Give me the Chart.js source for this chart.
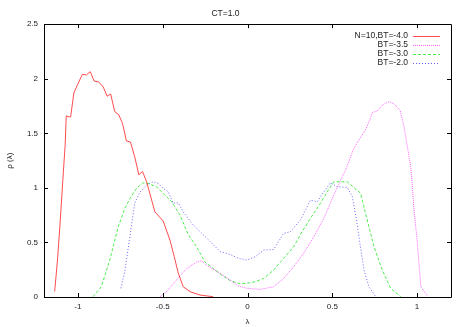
<!DOCTYPE html>
<html>
<head>
<meta charset="utf-8">
<script src="https://cdn.jsdelivr.net/npm/chart.js@4.4.1/dist/chart.umd.min.js"></script>
<style>
  html, body { margin: 0; padding: 0; background: #fff; }
  #wrap { width: 467px; height: 327px; }
</style>
</head>
<body>
<div id="wrap"><canvas id="rho_chart"></canvas></div>
<script>
// data
const seriesLabels = ['N=10,BT=-4.0', 'BT=-3.5', 'BT=-3.0', 'BT=-2.0'];

const lambdaA = [-1.137, -1.12, -1.105, -1.089, -1.075, -1.069, -1.05, -1.043, -1.024, -1.004, -0.974, -0.95, -0.927, -0.905, -0.878, -0.852, -0.828, -0.807, -0.783, -0.759, -0.737, -0.714, -0.69, -0.665, -0.641, -0.619, -0.595, -0.546, -0.497, -0.457, -0.432, -0.408, -0.379, -0.339, -0.28, -0.203];
const rhoA = [0.05, 0.35, 0.68, 1.07, 1.4, 1.66, 1.65, 1.65, 1.87, 1.94, 2.04, 2.035, 2.065, 1.98, 1.97, 1.93, 1.84, 1.86, 1.7, 1.67, 1.59, 1.43, 1.42, 1.285, 1.12, 1.15, 1.056, 0.78, 0.696, 0.52, 0.37, 0.217, 0.094, 0.049, 0.018, 0.003];

const lambdaB = [-0.516, -0.477, -0.418, -0.359, -0.3, -0.27, -0.24, -0.161, -0.102, -0.053, -0.004, 0.075, 0.154, 0.213, 0.272, 0.331, 0.39, 0.45, 0.509, 0.549, 0.578, 0.627, 0.657, 0.696, 0.716, 0.736, 0.766, 0.795, 0.834, 0.864, 0.9, 0.923, 0.943, 0.963, 0.982, 1.002, 1.022, 1.061];
const rhoB = [0.003, 0.049, 0.156, 0.26, 0.32, 0.33, 0.29, 0.217, 0.156, 0.1, 0.08, 0.07, 0.094, 0.17, 0.277, 0.4, 0.55, 0.72, 0.934, 1.07, 1.163, 1.36, 1.44, 1.53, 1.605, 1.69, 1.706, 1.76, 1.79, 1.77, 1.71, 1.56, 1.376, 1.19, 0.8, 0.49, 0.094, 0.01];

const lambdaC = [-0.911, -0.862, -0.812, -0.763, -0.724, -0.694, -0.655, -0.615, -0.586, -0.536, -0.487, -0.447, -0.398, -0.349, -0.3, -0.25, -0.201, -0.152, -0.102, -0.053, -0.004, 0.046, 0.095, 0.154, 0.213, 0.272, 0.322, 0.371, 0.43, 0.47, 0.509, 0.588, 0.667, 0.706, 0.746, 0.795, 0.844, 0.904];
const rhoC = [0.003, 0.094, 0.34, 0.64, 0.81, 0.9, 0.995, 1.047, 1.04, 1.01, 0.934, 0.873, 0.75, 0.57, 0.46, 0.32, 0.26, 0.2, 0.15, 0.125, 0.125, 0.14, 0.17, 0.247, 0.354, 0.46, 0.598, 0.72, 0.858, 0.964, 1.056, 1.056, 0.95, 0.705, 0.46, 0.247, 0.08, 0.003];

const lambdaD = [-0.747, -0.724, -0.694, -0.665, -0.635, -0.595, -0.556, -0.526, -0.497, -0.467, -0.438, -0.408, -0.379, -0.32, -0.24, -0.161, -0.102, -0.053, -0.004, 0.046, 0.095, 0.154, 0.213, 0.253, 0.312, 0.371, 0.411, 0.45, 0.489, 0.529, 0.588, 0.618, 0.643, 0.663, 0.687, 0.716, 0.756];
const rhoD = [0.08, 0.23, 0.55, 0.86, 0.96, 1.026, 1.056, 1.04, 0.995, 0.965, 0.86, 0.863, 0.78, 0.66, 0.54, 0.415, 0.39, 0.354, 0.339, 0.369, 0.43, 0.436, 0.583, 0.598, 0.705, 0.888, 0.873, 0.964, 1.047, 1.01, 1.005, 0.92, 0.705, 0.49, 0.247, 0.094, 0.003];

function pts(xs, ys) {
  return xs.map(function (x, i) { return {x: x, y: ys[i]}; });
}

// gnuplot prints 1 not 1.0
function plainNum(v) {
  return String(Math.round(v * 100) / 100);
}

const font8 = {family: "'Liberation Sans', Arial, sans-serif", size: 8};

// gnuplot style frame, inward ticks and key
const gnuFrame = {
  id: 'gnuFrame',
  afterDraw(chart) {
    const c = chart.ctx;
    const a = chart.chartArea;
    const xs = chart.scales.x, ys = chart.scales.y;
    c.save();
    c.strokeStyle = '#000';
    c.lineWidth = 1;
    c.setLineDash([]);
    c.beginPath();
    c.rect(Math.round(a.left) + 0.5, Math.round(a.top) + 0.5, Math.round(a.right - a.left), Math.round(a.bottom - a.top));
    xs.ticks.forEach(function (t) {
      const px = Math.round(xs.getPixelForValue(t.value)) + 0.5;
      c.moveTo(px, a.bottom); c.lineTo(px, a.bottom - 4);
      c.moveTo(px, a.top); c.lineTo(px, a.top + 4);
    });
    ys.ticks.forEach(function (t) {
      const py = Math.round(ys.getPixelForValue(t.value)) + 0.5;
      c.moveTo(a.left, py); c.lineTo(a.left + 4, py);
      c.moveTo(a.right, py); c.lineTo(a.right - 4, py);
    });
    c.stroke();

    // key
    c.font = "8.5px 'Liberation Sans', Arial, sans-serif";
    c.textAlign = 'right';
    c.textBaseline = 'middle';
    chart.data.datasets.forEach(function (ds, i) {
      const y = 36 + i * 9;
      c.fillStyle = '#222';
      c.fillText(ds.label, 408, y);
      c.strokeStyle = ds.borderColor;
      c.setLineDash(ds.borderDash || []);
      c.beginPath();
      c.moveTo(413, y + 0.5);
      c.lineTo(440, y + 0.5);
      c.stroke();
    });
    c.restore();
  }
};

const ctx = document.getElementById('rho_chart');
new Chart(ctx, {
  type: 'line',
  data: {
    datasets: [
      {
        label: seriesLabels[0],
        data: pts(lambdaA, rhoA),
        borderColor: 'rgba(255,0,0,0.7)',
        borderWidth: 1
      },
      {
        label: seriesLabels[1],
        data: pts(lambdaB, rhoB),
        borderColor: 'rgba(255,0,255,0.6)',
        borderDash: [1, 1],
        borderWidth: 1
      },
      {
        label: seriesLabels[2],
        data: pts(lambdaC, rhoC),
        borderColor: 'rgba(0,230,0,0.7)',
        borderDash: [3, 2],
        borderWidth: 1
      },
      {
        label: seriesLabels[3],
        data: pts(lambdaD, rhoD),
        borderColor: 'rgba(0,0,255,0.6)',
        borderDash: [1, 2],
        borderWidth: 1
      }
    ]
  },
  options: {
    responsive: true,
    maintainAspectRatio: false,
    animation: false,
    layout: {padding: {left: 0, right: 16, top: 0, bottom: 0}},
    elements: {point: {radius: 0}, line: {tension: 0}},
    plugins: {
      legend: {display: false},
      tooltip: {enabled: false},
      title: {
        display: true,
        text: 'CT=1.0',
        color: '#222',
        font: {family: font8.family, size: 8.5, weight: 'normal'},
        padding: {top: 9, bottom: 5}
      }
    },
    scales: {
      x: {
        type: 'linear',
        min: -1.2,
        max: 1.2,
        afterFit: function (s) { s.height = 30; },
        grid: {display: false, drawTicks: false},
        border: {display: false},
        ticks: {stepSize: 0.5, includeBounds: false, padding: 5, color: '#222', font: font8, maxRotation: 0, callback: plainNum},
        title: {display: true, text: 'λ', color: '#222', font: font8, padding: {top: 0, bottom: 0}}
      },
      y: {
        min: 0,
        max: 2.5,
        afterFit: function (s) { s.width = 44; },
        grid: {display: false, drawTicks: false},
        border: {display: false},
        ticks: {stepSize: 0.5, padding: 6, color: '#222', font: font8, callback: plainNum},
        title: {display: true, text: 'ρ (λ)', color: '#222', font: font8, padding: {top: 5, bottom: 0}}
      }
    }
  },
  plugins: [gnuFrame]
});
</script>
</body>
</html>
